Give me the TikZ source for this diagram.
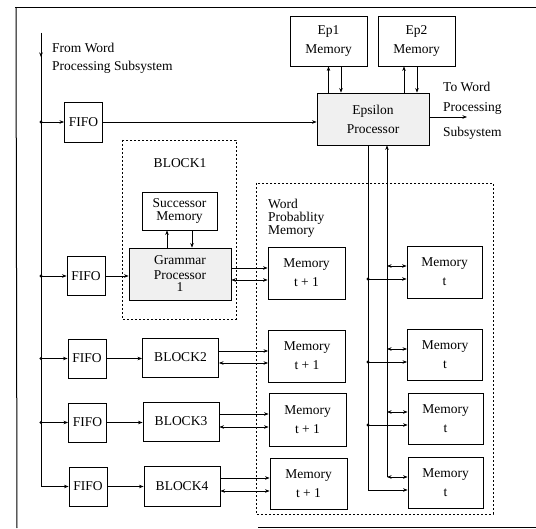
\documentclass[tikz,border=0pt]{standalone}
\usepackage{fontspec}
\setmainfont{Liberation Serif}
\usetikzlibrary{arrows.meta,calc}
\newcommand\dfont{\fontsize{13.5}{19}\selectfont}
\newcommand\tfont{\fontsize{13.5}{13}\selectfont}
\begin{document}
\begin{tikzpicture}[x=1pt,y=-1pt,
  box/.style={draw, line width=0.9pt, inner sep=0pt, align=center, font=\dfont},
  tightbox/.style={box, font=\tfont},
  shade/.style={fill=gray!12},
  fifo/.style={box, minimum width=38, minimum height=39},
  blk/.style={box, minimum width=76, minimum height=39},
  memp/.style={box, minimum width=77, minimum height=52},
  memt/.style={box, minimum width=75, minimum height=52},
  lbl/.style={inner sep=0pt, font=\dfont, anchor=base west},
  conn/.style={line width=0.6pt},
  arr/.style={conn, -{Stealth[length=4.5pt,width=3.5pt]}},
  barr/.style={conn, {Stealth[length=4.5pt,width=3.5pt]}-{Stealth[length=4.5pt,width=3.5pt]}},
  dashbox/.style={draw, line width=0.6pt, dash pattern=on 2pt off 2pt},
  frame/.style={line width=1pt}
]
\useasboundingbox (0,0) rectangle (536,529);

% outer frame
\draw[frame] (15,8) -- (536,8);
\draw[frame] (16,8) -- (17,528);
\draw[frame] (258,527) -- (536,527);

% dashed groups
\draw[dashbox] (122,140) rectangle (236,319);
\draw[dashbox] (256,183) rectangle (493,514);

% boxes
\node[fifo, minimum height=40] (f1) at (83.5,122) {FIFO};
\node[fifo] (f2) at (86,276) {FIFO};
\node[fifo] (f3) at (87,358.5) {FIFO};
\node[fifo] (f4) at (87.5,422.5) {FIFO};
\node[fifo] (f5) at (88,486.5) {FIFO};

\node[box, shade, minimum width=112, minimum height=52] (eps) at (373,119) {Epsilon\\Processor};
\node[box, minimum width=77, minimum height=50] (ep1) at (328.5,41) {Ep1\\Memory};
\node[box, minimum width=77, minimum height=50] (ep2) at (416.5,41) {Ep2\\Memory};

\node[tightbox, minimum width=75, minimum height=38] (succ) at (179.5,211) {Successor\\Memory};
\node[box, shade, minimum width=102, minimum height=52, font=\fontsize{13.5}{15}\selectfont] (gp) at (180,274) {Grammar\\Processor\\[-3pt]1};

\node[blk] (b2) at (180.5,357.5) {BLOCK2};
\node[blk] (b3) at (181,421.5) {BLOCK3};
\node[blk, minimum height=40] (b4) at (182,486) {BLOCK4};

\node[memp] (mp1) at (306.5,273) {Memory\\t + 1};
\node[memp] (mp2) at (307,356) {Memory\\t + 1};
\node[memp, minimum height=53] (mp3) at (307.5,419.5) {Memory\\t + 1};
\node[memp, minimum height=51] (mp4) at (308.5,483.5) {Memory\\t + 1};

\node[memt] (mt1) at (444.5,272) {Memory\\t};
\node[memt, minimum height=51] (mt2) at (445,354.5) {Memory\\t};
\node[memt, minimum height=51] (mt3) at (445.5,418.5) {Memory\\t};
\node[memt, minimum height=51] (mt4) at (445.5,482.5) {Memory\\t};

% labels
\node[lbl] (from1) at (52,52.5) {From Word};
\node[lbl] (from2) at (52,71) {Processing Subsystem};
\node[lbl] (to1) at (443,92) {To Word};
\node[lbl] (to2) at (443,112) {Processing};
\node[lbl] (to3) at (443,137) {Subsystem};
\node[lbl] (wp1) at (268,209) {Word};
\node[lbl] (wp2) at (268,222) {Probablity};
\node[lbl] (wp3) at (268,234.5) {Memory};
\node[inner sep=0pt, font=\dfont, anchor=base] (blk1) at (180,168) {BLOCK1};

% input bus
\coordinate (bustop) at (41,33);
\draw[arr] (bustop) -- (bustop |- f5.west) -- (f5.west);
\draw[arr] (bustop) -- (41,57);
\foreach \f in {f1,f2,f3,f4}{
  \draw[arr] (bustop |- \f.west) -- (\f.west);
  \fill (bustop |- \f.west) circle (1.7);
}

% FIFO to processors
\draw[arr] (f1.east) -- (eps.west |- f1.east);
\draw[arr] (f2.east) -- (gp.west |- f2.east);
\draw[arr] (f3.east) -- (b2.west |- f3.east);
\draw[arr] (f4.east) -- (b3.west |- f4.east);
\draw[arr] (f5.east) -- (b4.west |- f5.east);

% Epsilon memories
\draw[arr] (eps.north -| 328.5,0) -- (ep1.south -| 328.5,0);
\draw[arr] (ep1.south -| 341,0) -- (eps.north -| 341,0);
\draw[arr] (eps.north -| 404,0) -- (ep2.south -| 404,0);
\draw[arr] (ep2.south -| 417,0) -- (eps.north -| 417,0);

% output
\coordinate (outend) at (467,117);
\draw[arr] (eps.east |- outend) -- (outend);

% successor memory
\draw[arr] (gp.north -| 167,0) -- (succ.south -| 167,0);
\draw[arr] (succ.south -| 192,0) -- (gp.north -| 192,0);

% blocks to memory t+1
\draw[arr] (gp.east |- 0,268) -- (mp1.west |- 0,268);
\draw[barr] (gp.east |- 0,280) -- (mp1.west |- 0,280);
\draw[arr] (b2.east |- 0,351) -- (mp2.west |- 0,351);
\draw[barr] (b2.east |- 0,363) -- (mp2.west |- 0,363);
\draw[arr] (b3.east |- 0,414) -- (mp3.west |- 0,414);
\draw[barr] (b3.east |- 0,427) -- (mp3.west |- 0,427);
\draw[arr] (b4.east |- 0,478) -- (mp4.west |- 0,478);
\draw[barr] (b4.east |- 0,491) -- (mp4.west |- 0,491);

% epsilon to memory t
\coordinate (la) at (368,0);
\coordinate (lb) at (387,0);
\draw[arr] (eps.south -| la) -- (la |- 0,490) -- (mt4.west |- 0,490);
\foreach \m/\yy in {mt1/279,mt2/362,mt3/425}{
  \draw[arr] (la |- 0,\yy) -- (\m.west |- 0,\yy);
  \fill (la |- 0,\yy) circle (1.7);
}
\draw[arr] (lb |- 0,477) -- (eps.south -| lb);
\foreach \m/\yy in {mt1/266,mt2/349,mt3/412,mt4/477}{
  \draw[barr] (lb |- 0,\yy) -- (\m.west |- 0,\yy);
}
\end{tikzpicture}
\end{document}
